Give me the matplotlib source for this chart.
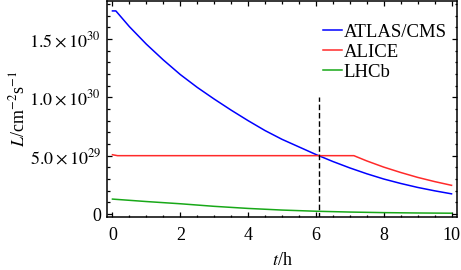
import numpy as np
import matplotlib
matplotlib.use('Agg')
import matplotlib.pyplot as plt
from matplotlib.ticker import MultipleLocator


# Luminosita' nel tempo per i tre esperimenti (in unita' di 1e30 cm^-2 s^-1)

t_atlas = [0, 0.1, 0.5, 1, 1.5, 2, 2.5, 3, 3.5, 4, 4.5, 5, 5.5, 6, 6.5, 7, 7.5, 8, 8.5, 9, 9.5, 10]
L_atlas = [1.74, 1.74, 1.605, 1.455, 1.32, 1.195, 1.085, 0.985, 0.89, 0.80, 0.715, 0.64, 0.575, 0.51,
           0.45, 0.395, 0.345, 0.30, 0.262, 0.228, 0.199, 0.173]

t_alice = [0, 0.15, 7.12, 7.5, 8, 8.5, 9, 9.5, 10]
L_alice = [0.508, 0.50, 0.50, 0.455, 0.402, 0.356, 0.314, 0.278, 0.246]

t_lhcb = [0, 1, 2, 3, 4, 5, 6, 7, 8, 9, 10]
L_lhcb = [0.128, 0.107, 0.088, 0.066, 0.048, 0.034, 0.024, 0.017, 0.012, 0.009, 0.007]

# linea tratteggiata: incrocio ATLAS/CMS - ALICE
t_cross = 6.08
L_cross_top = 1.0

y_ticks = [0, 0.5, 1.0, 1.5]
y_labels = ['0', r'$5.0\times10^{29}$', r'$1.0\times10^{30}$', r'$1.5\times10^{30}$']

labels = ['ATLAS/CMS', 'ALICE', 'LHCb']
colors = ['#0000ff', '#ff2a2a', '#18a818']


plt.rcParams['font.family'] = ['Liberation Serif', 'DejaVu Serif']
plt.rcParams['mathtext.fontset'] = 'stix'
plt.rcParams['font.size'] = 13

fig = plt.figure(figsize=(4.61, 2.70), dpi=100)
ax = fig.add_axes([106.7 / 461, (270 - 217.3) / 270, 350.6 / 461, 216.3 / 270])

ax.plot(t_atlas, L_atlas, color=colors[0], lw=1.1, label=labels[0])
ax.plot(t_alice, L_alice, color=colors[1], lw=1.1, label=labels[1])
ax.plot(t_lhcb, L_lhcb, color=colors[2], lw=1.1, label=labels[2])

ax.vlines(t_cross, -0.03, L_cross_top, colors='k', lw=1.0, linestyles=(0, (4, 2)))

ax.set_xlim(-0.17, 10.17)
ax.set_ylim(-0.028, 1.825)

ax.xaxis.set_major_locator(MultipleLocator(2))
ax.xaxis.set_minor_locator(MultipleLocator(0.5))
ax.set_yticks(y_ticks)
ax.set_yticklabels(y_labels)
ax.yaxis.set_minor_locator(MultipleLocator(0.1))

ax.tick_params(which='both', direction='in', top=True, right=True, width=0.9)
ax.tick_params(which='major', length=3.5)
ax.tick_params(axis='x', which='major', pad=7)
ax.tick_params(axis='y', which='major', pad=4)
ax.tick_params(which='minor', length=1.8)
for s in ax.spines.values():
    s.set_linewidth(1.1)

ax.set_xlabel(r'$t$/h', labelpad=6)
ax.set_ylabel(r'$L$/cm$^{-2}$s$^{-1}$', labelpad=1)

ax.legend(loc='upper right', bbox_to_anchor=(0.97, 0.895), frameon=False, borderpad=0, fontsize=13.5,
          handlelength=1.0, handletextpad=0.1, labelspacing=0.15, borderaxespad=0)

fig.savefig('out.png', dpi=100)
